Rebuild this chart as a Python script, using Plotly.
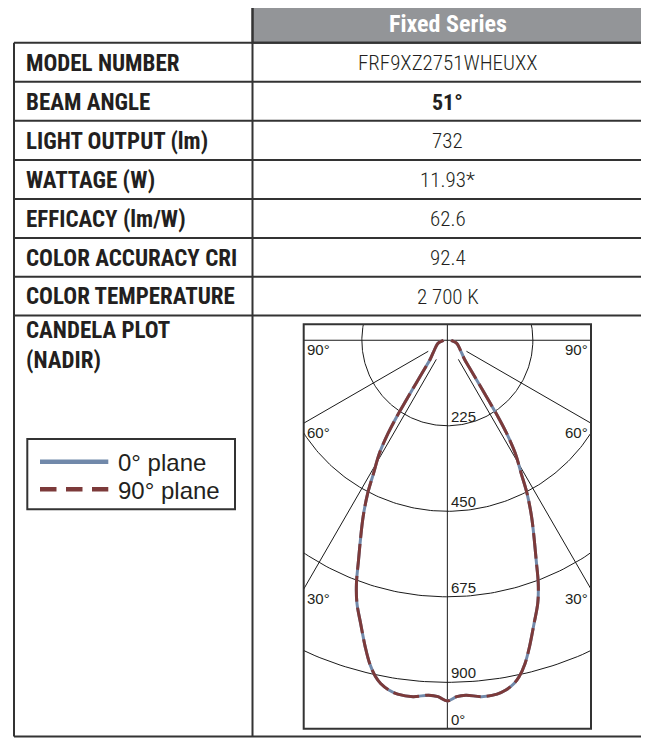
import numpy as np
import plotly.graph_objects as go

W, H = 649, 738
OFF = 8   # page body keeps its default 8px margin

# ---------------- data ----------------
header_text = "Fixed Series"
row_labels = ["MODEL NUMBER", "BEAM ANGLE", "LIGHT OUTPUT (lm)", "WATTAGE (W)",
              "EFFICACY (lm/W)", "COLOR ACCURACY CRI", "COLOR TEMPERATURE"]
row_values = ["FRF9XZ2751WHEUXX", "51°", "732", "11.93*", "62.6", "92.4", "2 700 K"]
value_bold = [False, True, False, False, False, False, False]
candela_label = ["CANDELA PLOT", "(NADIR)"]

# candela distribution (angle from nadir in degrees, intensity in cd)
angles_deg = [0, 1.5, 3, 5.5, 8, 9.5, 11, 12, 13.5, 15, 17, 19, 20.5, 22, 23.5,
              25.5, 27.5, 29, 31, 32.5, 33.5, 34.5, 35.5, 37, 39, 42, 48, 60, 72, 85, 90]
cd_0_plane = [949, 938, 935, 942, 940, 933, 920, 906, 875, 835, 780, 731, 683, 624, 574,
              515, 454, 401, 347, 290, 242, 190, 155, 118, 90, 68, 51, 35, 26, 12, 10]
cd_90_plane = [949, 938, 935, 942, 940, 933, 920, 906, 875, 835, 780, 731, 683, 624, 574,
               515, 454, 401, 347, 290, 242, 190, 155, 118, 90, 68, 51, 35, 26, 12, 10]

grid_radii = [225, 450, 675, 900]
grid_radial_angles = [30, 60]
radial_start = 58
angle_label_values = [90, 60, 30]
nadir_label = "0°"
legend_names = ["0° plane", "90° plane"]

BLUE = "#7189aa"
RED = "#7c3a3a"
LINE = "#333333"
GRID = "#1a1a1a"
NARROW = "Roboto Condensed, DejaVu Sans Condensed, Liberation Sans Narrow, Arial Narrow, sans-serif"
REG = "Liberation Sans, Arial, Helvetica, sans-serif"


def px(x):
    return (x - OFF) / W


def py(y):
    return 1 - (y - OFF) / H


fig = go.Figure()

# ---------------- polar grid (cartesian projection) ----------------
t = np.linspace(0, 2 * np.pi, 400)
for r in grid_radii:
    fig.add_trace(go.Scatter(x=r * np.cos(t), y=r * np.sin(t), mode="lines",
                             line=dict(color=GRID, width=1), hoverinfo="skip", showlegend=False))
for a in grid_radial_angles:
    for s in (-1, 1):
        rr = np.array([radial_start, 1500])
        fig.add_trace(go.Scatter(x=s * rr * np.sin(np.radians(a)), y=-rr * np.cos(np.radians(a)),
                                 mode="lines", line=dict(color=GRID, width=1),
                                 hoverinfo="skip", showlegend=False))
fig.add_trace(go.Scatter(x=[-1500, 1500], y=[0, 0], mode="lines",
                         line=dict(color=GRID, width=1), hoverinfo="skip", showlegend=False))
fig.add_trace(go.Scatter(x=[0, 0], y=[-1500, 1500], mode="lines",
                         line=dict(color=GRID, width=1), hoverinfo="skip", showlegend=False))


def curve(angles, cds):
    th = np.radians(np.array(angles, dtype=float))
    cd = np.array(cds, dtype=float)
    th_full = np.concatenate([-th[::-1], th[1:]])
    cd_full = np.concatenate([cd[::-1], cd[1:]])
    return cd_full * np.sin(th_full), -cd_full * np.cos(th_full)


x0p, y0p = curve(angles_deg, cd_0_plane)
x90p, y90p = curve(angles_deg, cd_90_plane)
fig.add_trace(go.Scatter(x=x0p, y=y0p, mode="lines", name=legend_names[0],
                         line=dict(color=BLUE, width=3, shape="spline"), showlegend=False))
fig.add_trace(go.Scatter(x=x90p, y=y90p, mode="lines", name=legend_names[1],
                         line=dict(color=RED, width=3, dash="26px,6px", shape="spline"),
                         showlegend=False))

# ---------------- layout ----------------
XR = [-378, 378]
YR = [-1022, 42]
fig.update_layout(
    width=W, height=H, margin=dict(l=0, r=0, t=0, b=0),
    paper_bgcolor="white", plot_bgcolor="white", showlegend=False,
    xaxis=dict(domain=[px(303.7), px(591)], range=XR, visible=False, fixedrange=True),
    yaxis=dict(domain=[py(728.7), py(324.3)], range=YR, visible=False, fixedrange=True),
)

shapes = []
annotations = []

# table structure
TL, CD, TR = 14, 252.5, 643.3
HT = 4.5
edges = [42.7, 81.7, 120.7, 160, 199, 238, 276.7, 315.5]
BOT = 736.5
shapes.append(dict(type="rect", xref="paper", yref="paper", x0=px(CD), x1=px(TR),
                   y0=py(HT), y1=py(edges[0]), fillcolor="#939598",
                   line=dict(color=LINE, width=2), layer="below"))
for e in edges:
    shapes.append(dict(type="line", xref="paper", yref="paper", x0=px(TL), x1=px(TR),
                       y0=py(e), y1=py(e), line=dict(color=LINE, width=2)))
shapes.append(dict(type="line", xref="paper", yref="paper", x0=px(TL), x1=px(TR),
                   y0=py(BOT), y1=py(BOT), line=dict(color=LINE, width=2)))
shapes.append(dict(type="line", xref="paper", yref="paper", x0=px(TL), x1=px(TL),
                   y0=py(edges[0]), y1=py(BOT), line=dict(color=LINE, width=2)))
for xv in (CD, TR):
    shapes.append(dict(type="line", xref="paper", yref="paper", x0=px(xv), x1=px(xv),
                       y0=py(HT), y1=py(BOT), line=dict(color=LINE, width=2)))

# plot box
shapes.append(dict(type="rect", xref="x domain", yref="y domain", x0=0, x1=1, y0=0, y1=1,
                   line=dict(color=LINE, width=2)))

# legend box & samples
shapes.append(dict(type="rect", xref="paper", yref="paper", x0=px(27.3), x1=px(235),
                   y0=py(439), y1=py(509.3), line=dict(color=LINE, width=2)))
shapes.append(dict(type="line", xref="paper", yref="paper", x0=px(40), x1=px(108.3),
                   y0=py(461.7), y1=py(461.7), line=dict(color=BLUE, width=4.5)))
shapes.append(dict(type="line", xref="paper", yref="paper", x0=px(40), x1=px(108.3),
                   y0=py(489.3), y1=py(489.3), line=dict(color=RED, width=4.5, dash="16.5px,9.5px")))

# header text
annotations.append(dict(xref="paper", yref="paper", x=px((CD + TR) / 2), y=py(23.5),
                        text="<b>" + header_text + "</b>", showarrow=False, xanchor="center",
                        yanchor="middle", font=dict(family=NARROW, size=24, color="white")))
for i, (lab, val) in enumerate(zip(row_labels, row_values)):
    yc = (edges[i] + edges[i + 1]) / 2 + 0.8
    annotations.append(dict(xref="paper", yref="paper", x=px(24), y=py(yc), text="<b>" + lab + "</b>",
                            showarrow=False, xanchor="left", yanchor="middle",
                            font=dict(family=NARROW, size=23, color="#231f20")))
    annotations.append(dict(xref="paper", yref="paper", x=px((CD + TR) / 2), y=py(yc),
                            text=("<b>" + val + "</b>") if value_bold[i] else val,
                            showarrow=False, xanchor="center", yanchor="middle",
                            font=dict(family=NARROW, size=22 if value_bold[i] else 21,
                                      weight=700 if value_bold[i] else 300,
                                      color="#231f20")))
annotations.append(dict(xref="paper", yref="paper", x=px(24), y=py(346),
                        text="<b>" + candela_label[0] + "</b><br><b>" + candela_label[1] + "</b>",
                        showarrow=False, xanchor="left", yanchor="middle", align="left",
                        font=dict(family=NARROW, size=23, color="#231f20")))

# legend text
for name, yb in zip(legend_names, [462.5, 490]):
    annotations.append(dict(xref="paper", yref="paper", x=px(116), y=py(yb), text=name,
                            showarrow=False, xanchor="left", yanchor="middle",
                            font=dict(family=REG, size=24, color="#231f20")))

# grid labels
for r in grid_radii:
    annotations.append(dict(xref="x", yref="y", x=6, y=-r, text=str(r), showarrow=False,
                            xanchor="left", yanchor="bottom", borderpad=0,
                            font=dict(family=REG, size=15, color="#231f20")))
for a in angle_label_values:
    if a == 90:
        yh = 0
    else:
        yh = -abs(XR[0]) / np.tan(np.radians(a))
    for side in (-1, 1):
        annotations.append(dict(xref="x", yref="y", x=XR[0] if side < 0 else XR[1], y=yh,
                                text=f"{a}°", showarrow=False,
                                xanchor="left" if side < 0 else "right", yanchor="top",
                                xshift=2 if side < 0 else -2, borderpad=0,
                                font=dict(family=REG, size=15, color="#231f20")))
annotations.append(dict(xref="x", yref="y", x=6, y=YR[0], text=nadir_label, showarrow=False,
                        xanchor="left", yanchor="bottom", borderpad=0,
                        font=dict(family=REG, size=15, color="#231f20")))

fig.update_layout(shapes=shapes, annotations=annotations)
fig.write_html("out.html")
